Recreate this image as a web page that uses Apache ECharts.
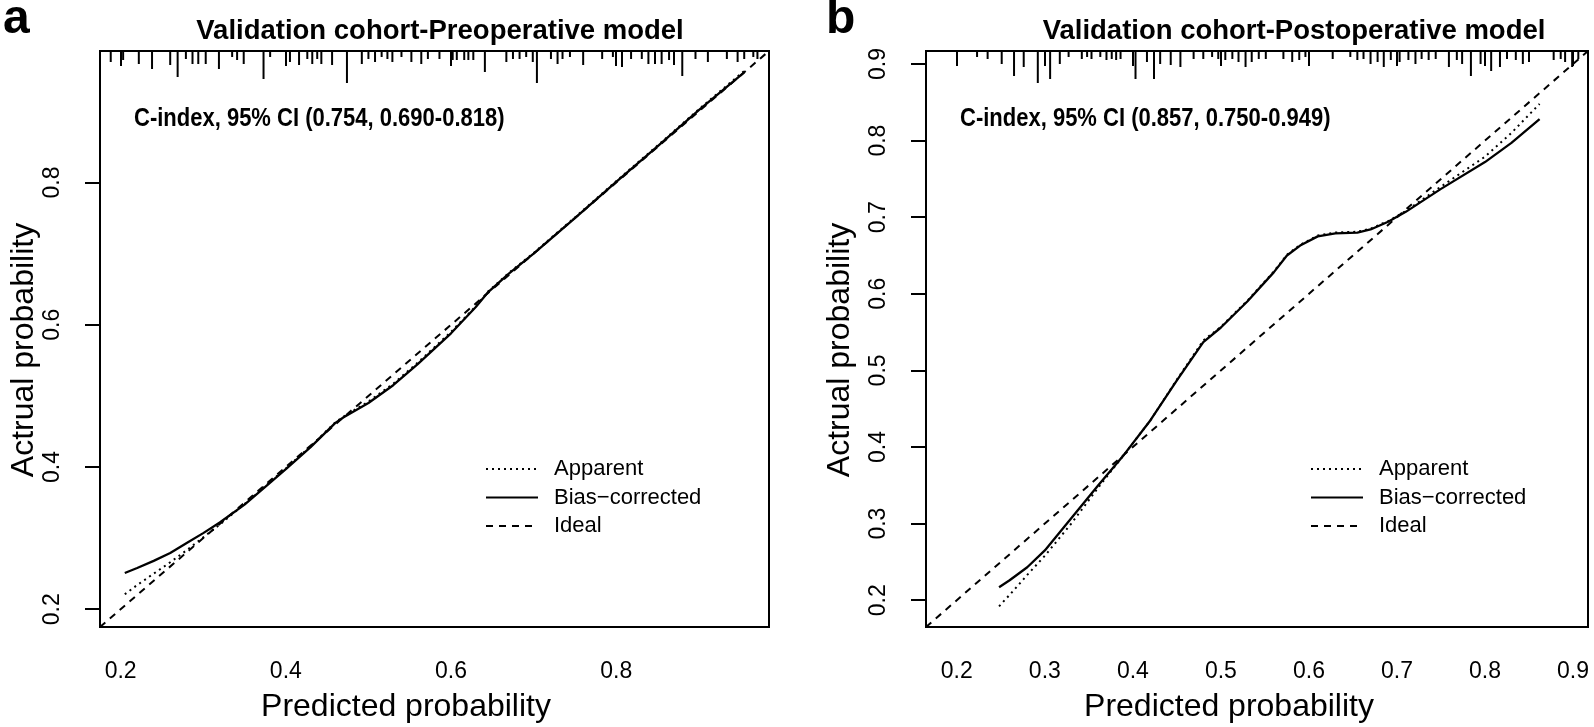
<!DOCTYPE html>
<html><head><meta charset="utf-8">
<script src="https://cdn.jsdelivr.net/npm/echarts@6.0.0/dist/echarts.min.js"></script>
<style>html,body{margin:0;padding:0;background:#fff}#c{width:1594px;height:727px}</style>
</head><body><div id="c"></div>
<script>
// ---------- data ----------
const panelLetters = ['a', 'b'];
const titles = ['Validation cohort-Preoperative model', 'Validation cohort-Postoperative model'];
const cIndexText = ['C-index, 95% CI (0.754, 0.690-0.818)', 'C-index, 95% CI (0.857, 0.750-0.949)'];
const legendNames = ['Apparent', 'Bias\u2212corrected', 'Ideal'];
const xAxisTitle = 'Predicted probability';
const yAxisTitle = 'Actrual probability';

const rangeA = [0.175, 0.985];
const rangeB = [0.165, 0.917];
const ticksA = [0.2, 0.4, 0.6, 0.8];
const ticksB = [0.2, 0.3, 0.4, 0.5, 0.6, 0.7, 0.8, 0.9];

// panel a curves
const predA = [0.205,0.22,0.24,0.26,0.28,0.30,0.32,0.35,0.38,0.40,0.43,0.46,0.47,0.50,0.53,0.56,0.60,0.63,0.645,0.67,0.70,0.75,0.80,0.85,0.90,0.955];
const biasA = [0.251,0.258,0.268,0.279,0.293,0.307,0.322,0.347,0.377,0.397,0.428,0.462,0.470,0.490,0.515,0.545,0.588,0.625,0.646,0.672,0.700,0.750,0.801,0.851,0.902,0.955];
const apparentA = [0.221,0.234,0.250,0.266,0.283,0.301,0.319,0.348,0.378,0.398,0.429,0.463,0.471,0.492,0.517,0.547,0.590,0.626,0.647,0.673,0.701,0.751,0.802,0.852,0.903,0.957];

// panel b curves
const predB = [0.248,0.26,0.28,0.30,0.33,0.36,0.39,0.42,0.45,0.48,0.50,0.53,0.56,0.575,0.59,0.61,0.63,0.655,0.67,0.69,0.71,0.75,0.80,0.83,0.862];
const biasB = [0.217,0.226,0.243,0.265,0.307,0.349,0.390,0.435,0.487,0.537,0.556,0.590,0.628,0.650,0.663,0.675,0.679,0.680,0.684,0.694,0.707,0.737,0.772,0.797,0.828];
const apparentB = [0.192,0.207,0.233,0.258,0.300,0.346,0.390,0.435,0.488,0.539,0.557,0.591,0.629,0.651,0.664,0.676,0.680,0.681,0.685,0.695,0.708,0.740,0.779,0.810,0.848];

// distribution of predictions (rug at top), relative frequency
const rugA = [0.188,0.203,0.222,0.238,0.260,0.269,0.279,0.287,0.294,0.303,0.319,0.335,0.341,0.349,0.373,0.381,0.405,0.416,0.426,0.432,0.438,0.443,0.456,0.474,0.492,0.500,0.508,0.516,0.523,0.529,0.540,0.552,0.564,0.572,0.586,0.602,0.607,0.616,0.621,0.627,0.641,0.667,0.675,0.683,0.691,0.699,0.704,0.721,0.729,0.735,0.744,0.760,0.783,0.796,0.807,0.818,0.831,0.839,0.847,0.855,0.864,0.870,0.880,0.896,0.911,0.934,0.947,0.955,0.966,0.971];
const rugAFreq = [11,9,13,18,14,26,8,13,13,13,18,6,9,13,28,6,11,14,8,13,8,13,14,32,13,8,11,6,8,11,6,11,13,8,8,9,9,9,9,9,21,11,8,8,6,11,32,8,13,8,6,14,8,6,16,8,8,13,13,13,9,14,25,8,11,8,11,8,6,8];
const rugB = [0.223,0.235,0.251,0.265,0.276,0.292,0.306,0.317,0.327,0.342,0.348,0.353,0.363,0.370,0.376,0.381,0.386,0.403,0.416,0.424,0.431,0.443,0.454,0.469,0.480,0.490,0.497,0.505,0.513,0.520,0.528,0.535,0.543,0.551,0.571,0.581,0.589,0.596,0.627,0.647,0.655,0.662,0.670,0.678,0.685,0.693,0.703,0.713,0.721,0.728,0.736,0.744,0.759,0.768,0.774,0.784,0.795,0.807,0.817,0.825,0.835,0.843,0.850,0.878,0.886,0.891,0.899,0.906];
const rugBFreq = [6,8,13,25,16,32,28,13,6,8,6,8,6,9,8,9,8,28,11,28,13,14,16,8,8,6,8,9,8,11,16,11,8,8,8,11,9,6,8,6,9,8,13,11,16,9,11,9,13,8,9,8,16,9,13,25,13,20,16,8,9,13,11,9,8,11,16,8];

// ---------- chart ----------
const FONT = '"Liberation Sans", Arial, Helvetica, sans-serif';
const chart = echarts.init(document.getElementById('c'), null, {renderer: 'canvas'});

const grids = [
  {left: 100, top: 51, width: 669, height: 576},
  {left: 926, top: 51, width: 662, height: 576}
];
const layout = [
  {title: 440, xTitle: 406, yTitle: 24, letter: 3, legend: 480},
  {title: 1294, xTitle: 1229, yTitle: 840, letter: 826, legend: 1305}
];
const ranges = [rangeA, rangeB];
const ticks = [ticksA, ticksB];
const rugs = [[rugA, rugAFreq], [rugB, rugBFreq]];
const curves = [[predA, apparentA, biasA], [predB, apparentB, biasB]];

const xAxes = [], yAxes = [], series = [], legends = [], graphics = [];
const zip = (xs, ys) => xs.map((x, i) => [x, ys[i]]);
const txt = (o) => ({
  type: 'text', x: o.x, y: o.y, rotation: o.rot || 0, scaleX: o.sx || 1, scaleY: o.sy || 1, silent: true,
  style: {text: o.text, font: o.font, fill: '#000', align: o.align || 'center', verticalAlign: 'middle',
          textAlign: o.align || 'center', textVerticalAlign: 'middle'}
});

[0, 1].forEach(i => {
  const r = ranges[i], t = ticks[i], L = layout[i], g = grids[i];
  xAxes.push({
    type: 'value', gridIndex: i, min: r[0], max: r[1],
    axisLine: {show: false}, splitLine: {show: false},
    axisTick: {show: true, length: 15, lineStyle: {color: '#000', width: 2}, customValues: t},
    axisLabel: {customValues: t, formatter: v => v.toFixed(1), fontSize: 23, color: '#000', margin: 33, fontFamily: FONT}
  });
  yAxes.push({
    type: 'value', gridIndex: i, min: r[0], max: r[1],
    axisLine: {show: false}, splitLine: {show: false},
    axisTick: {show: true, length: 15, lineStyle: {color: '#000', width: 2}, customValues: t},
    axisLabel: {customValues: t, formatter: v => v.toFixed(1), fontSize: 23, color: '#000', margin: 36, rotate: 90, fontFamily: FONT}
  });
  yAxes.push({type: 'value', gridIndex: i, min: 0, max: 576, inverse: true, show: false});
  series.push({
    type: 'bar', xAxisIndex: i, yAxisIndex: 2 * i + 1, silent: true,
    data: zip(rugs[i][0], rugs[i][1]), barWidth: 2, itemStyle: {color: '#000'}
  });
  series.push({
    name: 'Ideal', type: 'line', xAxisIndex: i, yAxisIndex: 2 * i, symbol: 'none', silent: true,
    data: [[r[0], r[0]], [r[1], r[1]]],
    lineStyle: {color: '#000', width: 2, type: [7, 6]}
  });
  series.push({
    name: legendNames[0], type: 'line', xAxisIndex: i, yAxisIndex: 2 * i, symbol: 'none', silent: true,
    data: zip(curves[i][0], curves[i][1]),
    lineStyle: {color: '#000', width: 2, type: [2, 4]}
  });
  series.push({
    name: legendNames[1], type: 'line', xAxisIndex: i, yAxisIndex: 2 * i, symbol: 'none', silent: true,
    data: zip(curves[i][0], curves[i][2]),
    lineStyle: {color: '#000', width: 2.3, type: 'solid'}
  });
  legends.push({
    data: legendNames, orient: 'vertical', selectedMode: false,
    left: L.legend, top: 453,
    itemWidth: 52, itemHeight: 14, itemGap: 6.5,
    itemStyle: {opacity: 0},
    textStyle: {fontSize: 22, color: '#000', lineHeight: 22, fontFamily: FONT, padding: [0, 0, 0, 11]}
  });
  graphics.push(txt({x: L.title, y: 31, text: titles[i], font: 'bold 27.5px ' + FONT}));
  graphics.push(txt({x: g.left + 34, y: 119, text: cIndexText[i], font: 'bold 25px ' + FONT, align: 'left', sx: 0.88}));
  graphics.push(txt({x: L.letter, y: 20, text: panelLetters[i], font: 'bold 48px ' + FONT, align: 'left'}));
  graphics.push(txt({x: L.xTitle, y: 707, text: xAxisTitle, font: '32px ' + FONT}));
  graphics.push(txt({x: L.yTitle, y: 350, text: yAxisTitle, font: '32px ' + FONT, rot: Math.PI / 2}));
});

chart.setOption({
  animation: false,
  backgroundColor: '#fff',
  grid: grids.map(g => Object.assign({show: true, borderColor: '#000', borderWidth: 2, backgroundColor: 'transparent'}, g)),
  xAxis: xAxes, yAxis: yAxes, series: series, legend: legends, graphic: graphics
});
</script></body></html>
